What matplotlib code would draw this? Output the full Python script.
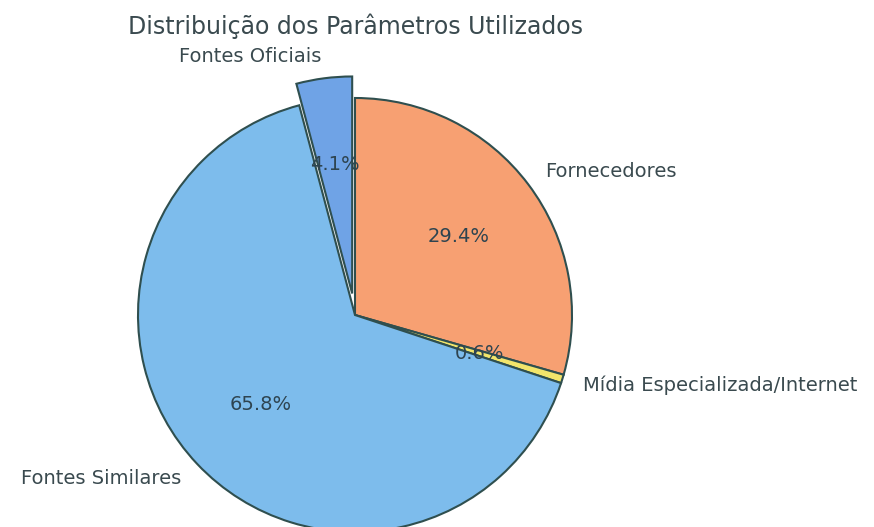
import matplotlib
matplotlib.use("Agg")
import matplotlib.pyplot as plt

labels = ["Fornecedores", "Mídia Especializada/Internet", "Fontes Similares", "Fontes Oficiais"]
values = [29.44, 0.64, 65.78, 4.14]
colors = ["#f7a072", "#f2e56b", "#7dbcec", "#6fa3e6"]
explode = [0, 0, 0, 0.1]

W, H = 874, 527
fig = plt.figure(figsize=(W / 100, H / 100), dpi=100)
ax = fig.add_axes([0, 0, 1, 1])

text_color = "#3a4a4f"
wedges, texts, autotexts = ax.pie(
    values, labels=labels, colors=colors, explode=explode,
    autopct="%1.1f%%", startangle=90, counterclock=False,
    pctdistance=0.6, labeldistance=1.1,
    wedgeprops=dict(edgecolor="#2f4f4f", linewidth=1.5),
    textprops=dict(color=text_color, fontsize=14),
)
for t in autotexts:
    t.set_fontsize(14)
    t.set_color("#2e4450")

r_px = 217.0
cx, cy = 355.0, H - 315.0
ax.set_xlim(-cx / r_px, (W - cx) / r_px)
ax.set_ylim(-cy / r_px, (H - cy) / r_px)
ax.set_aspect("equal", adjustable="datalim")
ax.axis("off")

fig.text(355 / W, 1 - 26 / H, "Distribuição dos Parâmetros Utilizados",
         ha="center", va="center", fontsize=17, color=text_color)

fig.savefig("out.png", dpi=100)
